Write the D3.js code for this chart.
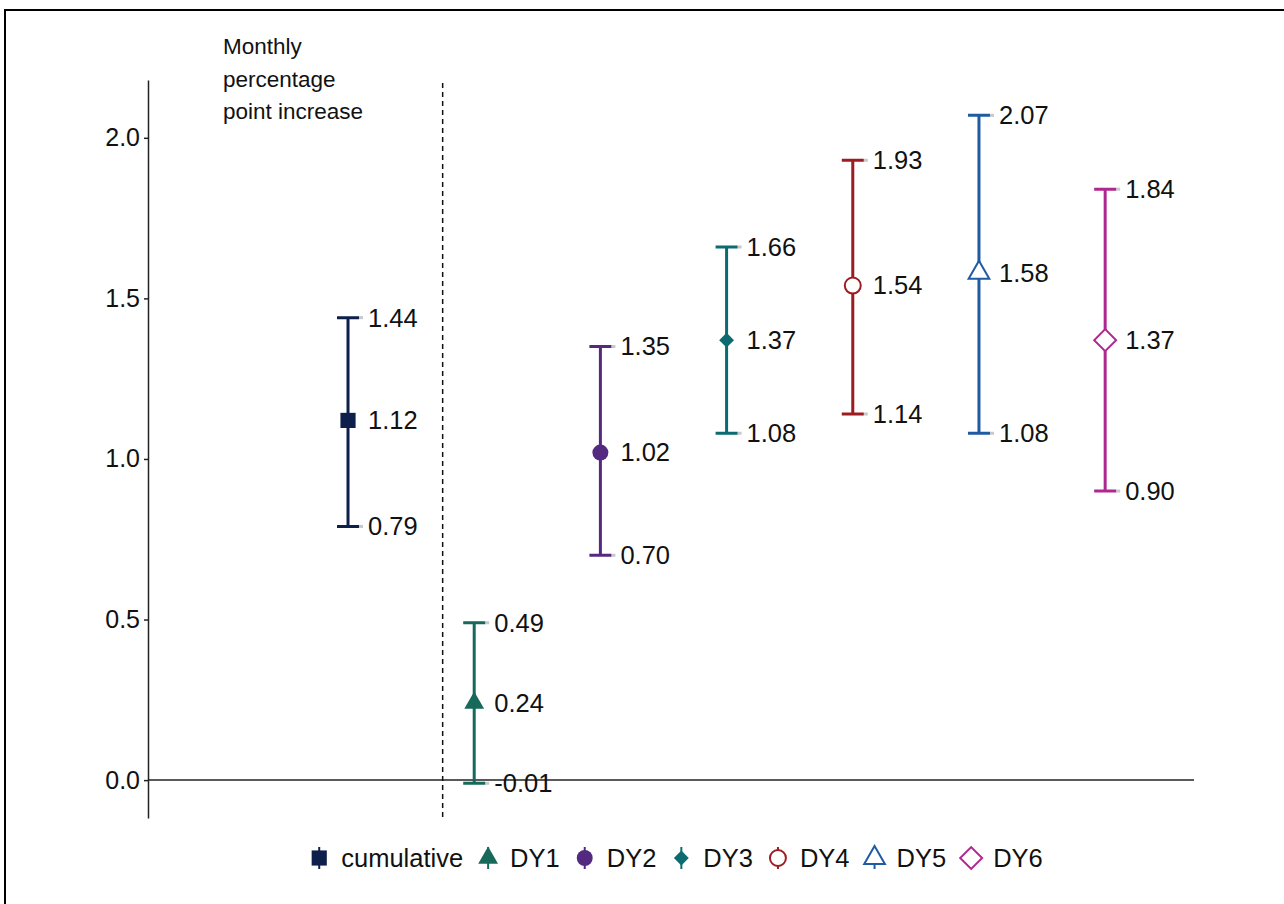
<!DOCTYPE html>
<html>
<head>
  <meta charset="UTF-8">
  <title>monthly-increase</title>
  <style type="text/css">
    body { margin: 0; background: #fff; }
    svg { display: block; font-family: "Liberation Sans", Arial, sans-serif; }
    .axis path, .axis line { stroke: #222; stroke-width: 1.5px; }
    .axis text { font-size: 25px; fill: #111; }
    .lbl { font-size: 25.5px; fill: #111; }
  </style>
</head>
<body>
  <div class="svg-zone"></div>
  <script src="https://cdn.jsdelivr.net/npm/d3@7"></script>
  <script type="text/javascript">
    var groups = ["cumulative", "DY1", "DY2", "DY3", "DY4", "DY5", "DY6"];
    var estimates = [1.12, 0.24, 1.02, 1.37, 1.54, 1.58, 1.37];
    var lower = [0.79, -0.01, 0.70, 1.08, 1.14, 1.08, 0.90];
    var upper = [1.44, 0.49, 1.35, 1.66, 1.93, 2.07, 1.84];
    var yTicks = [0, 0.5, 1.0, 1.5, 2.0];
    var titleLines = ["Monthly", "percentage", "point increase"];

    // marker styling per group
    var colors = ["#0f1f4b", "#17695a", "#532a80", "#0b6b70", "#9c1c21", "#1f5ba3", "#b0288f"];
    var shapes = [d3.symbolSquare, d3.symbolTriangle, d3.symbolCircle, "diamond",
                  d3.symbolCircle, d3.symbolTriangle, "diamond"];
    var sizes = [230, 170, 200, 110, 200, 185, 240];
    var filled = [true, true, true, true, false, false, false];

    var width = 1284, height = 904;
    var fmt = function (v) { return d3.format(".2f")(v).replace("\u2212", "-"); };

    var svg = d3.select(".svg-zone").append("svg")
      .attr("width", width)
      .attr("height", height);

    // frame (only top and left edges are visible)
    svg.append("path")
      .attr("d", "M5,904V10H1284")
      .attr("fill", "none")
      .attr("stroke", "#000")
      .attr("stroke-width", 2);

    var x = d3.scaleLinear().domain([-1.585, 6.704]).range([148, 1194]);
    var y = d3.scaleLinear().domain([-0.118, 2.18]).range([818, 80]);

    var data = groups.map(function (g, i) {
      return { name: g, i: i, est: estimates[i], lo: lower[i], hi: upper[i] };
    });

    // y axis
    svg.append("g")
      .attr("class", "axis")
      .attr("transform", "translate(" + x.range()[0] + ",0)")
      .call(d3.axisLeft(y).tickValues(yTicks).tickFormat(d3.format(".1f"))
        .tickSize(4).tickPadding(4).tickSizeOuter(0))
      .call(function (g) { g.selectAll("text").attr("font-family", null); });

    // zero line
    svg.append("line")
      .attr("x1", x.range()[0]).attr("x2", x.range()[1])
      .attr("y1", y(0)).attr("y2", y(0))
      .attr("stroke", "#222").attr("stroke-width", 1.5);

    // dashed separator between cumulative and yearly estimates
    svg.append("line")
      .attr("x1", x(0.75)).attr("x2", x(0.75))
      .attr("y1", 83).attr("y2", y.range()[0])
      .attr("stroke", "#111").attr("stroke-width", 1.5)
      .attr("stroke-dasharray", "5,4");

    // axis title
    svg.append("text")
      .attr("class", "lbl")
      .style("font-size", "22.5px")
      .selectAll("tspan")
      .data(titleLines)
      .enter().append("tspan")
      .attr("x", 223)
      .attr("y", function (d, i) { return 54 + i * 32.5; })
      .text(function (d) { return d; });

    function symbolPath(i) {
      if (shapes[i] === "diamond") return d3.symbol(d3.symbolSquare, sizes[i])();
      return d3.symbol(shapes[i], sizes[i])();
    }
    function symbolRot(i) { return shapes[i] === "diamond" ? " rotate(45)" : ""; }

    var capW = 11;
    var bars = svg.selectAll(".bar")
      .data(data)
      .enter().append("g")
      .attr("class", "bar");

    // faint cap tails
    bars.selectAll(".tail")
      .data(function (d) { return [d.lo, d.hi].map(function (v) { return { i: d.i, v: v }; }); })
      .enter().append("line")
      .attr("x1", function (d) { return x(d.i) + capW; })
      .attr("x2", function (d) { return x(d.i) + capW + 4; })
      .attr("y1", function (d) { return y(d.v); })
      .attr("y2", function (d) { return y(d.v); })
      .attr("stroke", "#c8c8c8").attr("stroke-width", 3);

    bars.append("path")
      .attr("d", function (d) {
        var cx = x(d.i);
        return "M" + (cx - capW) + "," + y(d.hi) + "H" + (cx + capW) +
          "M" + cx + "," + y(d.hi) + "V" + y(d.lo) +
          "M" + (cx - capW) + "," + y(d.lo) + "H" + (cx + capW);
      })
      .attr("fill", "none")
      .attr("stroke", function (d) { return colors[d.i]; })
      .attr("stroke-width", 3);

    bars.append("path")
      .attr("d", function (d) { return symbolPath(d.i); })
      .attr("transform", function (d) {
        return "translate(" + x(d.i) + "," + y(d.est) + ")" + symbolRot(d.i);
      })
      .attr("fill", function (d) { return filled[d.i] ? colors[d.i] : "#fff"; })
      .attr("stroke", function (d) { return colors[d.i]; })
      .attr("stroke-width", function (d) { return filled[d.i] ? 0 : 2; });

    // value labels
    bars.selectAll(".lbl")
      .data(function (d) { return [d.hi, d.est, d.lo].map(function (v) { return { i: d.i, v: v }; }); })
      .enter().append("text")
      .attr("class", "lbl")
      .attr("x", function (d) { return x(d.i) + 20; })
      .attr("y", function (d) { return y(d.v); })
      .attr("dy", "0.35em")
      .text(function (d) { return fmt(d.v); });

    // legend
    var legend = svg.append("g").attr("class", "legend");
    var cursor = 0;
    groups.forEach(function (g, i) {
      var item = legend.append("g");
      var mx = cursor;
      item.append("line")
        .attr("x1", mx).attr("x2", mx).attr("y1", -11).attr("y2", 11)
        .attr("stroke", colors[i]).attr("stroke-width", 2);
      item.append("path")
        .attr("d", symbolPath(i))
        .attr("transform", "translate(" + mx + ",0)" + symbolRot(i))
        .attr("fill", filled[i] ? colors[i] : "#fff")
        .attr("stroke", colors[i])
        .attr("stroke-width", filled[i] ? 0 : 2);
      var t = item.append("text")
        .attr("class", "lbl")
        .attr("x", mx + 22)
        .attr("dy", "0.35em")
        .text(g);
      cursor = mx + 22 + t.node().getComputedTextLength() + 25;
    });
    var legendW = cursor - 25;
    legend.attr("transform", "translate(" + (322 + (1040 - 322 - legendW) / 2) + ",858)");
  </script>
</body>
</html>
